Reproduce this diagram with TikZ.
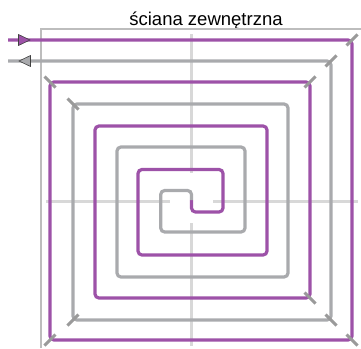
\documentclass[tikz,border=0pt]{standalone}
\usepackage{fontspec}
\setmainfont{Liberation Sans}
\definecolor{supply}{HTML}{9D52A8}
\definecolor{ret}{HTML}{A9AAAD}
\definecolor{axisgray}{HTML}{D8D8D8}
\definecolor{wallgray}{HTML}{BDBDBD}
\definecolor{tickgray}{HTML}{9A9A9A}
\begin{document}
\begin{tikzpicture}[x=1pt,y=-1pt,
  wall/.style={wallgray,line width=1.3pt},
  axisline/.style={axisgray,line width=3pt},
  pipesup/.style={supply,line width=3.2pt,rounded corners=4pt},
  piperet/.style={ret,line width=3.2pt,rounded corners=4pt},
  tickmark/.style={tickgray,line width=3pt},
  arrowhead/.style={draw=black!75,line width=0.6pt,line join=miter}]
\useasboundingbox (0,0) rectangle (361,348);
% title
\node[font=\fontsize{18.5}{20}\selectfont,anchor=base] (title) at (206,25.5) {ściana zewnętrzna};
% wall
\draw[wall] (41,348) -- (41,29) -- (361,29);
% axes
\draw[axisline] (46,201) -- (170,201);
\draw[axisline] (213,201) -- (358,201);
\draw[axisline] (191.5,34) -- (191.5,173);
\draw[axisline] (191.5,223) -- (191.5,346);
% supply spiral
\draw[pipesup] (8,40) -- (352,40) -- (352,340) -- (50,340) -- (50,82) -- (310,82)
  -- (310,298) -- (95,298) -- (95,126) -- (267,126) -- (267,255) -- (138,255)
  -- (138,169.5) -- (223,169.5) -- (223,212) -- (191.5,212) -- (191.5,200);
% return spiral
\draw[piperet] (191.5,200) -- (191.5,190.5) -- (160.7,190.5) -- (160.7,232) -- (245,232)
  -- (245,147) -- (117,147) -- (117,277) -- (288,277) -- (288,104) -- (73,104)
  -- (73,320) -- (331,320) -- (331,61) -- (8,61);
% corner ticks
\foreach \cx/\cy/\sx/\sy in {352/40/1/-1, 331/61/1/-1, 310/82/1/-1,
                             50/82/-1/-1, 73/104/-1/-1,
                             50/340/-1/1, 73/320/-1/1,
                             352/340/1/1, 331/320/1/1, 310/298/1/1}
  \draw[tickmark] (\cx-5.5*\sx,\cy-5.5*\sy) -- (\cx+5.5*\sx,\cy+5.5*\sy);
% arrowheads
\filldraw[arrowhead,fill=supply] (18.5,34.5) -- (30,40) -- (18.5,45.5) -- cycle;
\filldraw[arrowhead,fill=ret] (30.5,55.5) -- (19,61) -- (30.5,66.5) -- cycle;
\end{tikzpicture}
\end{document}
